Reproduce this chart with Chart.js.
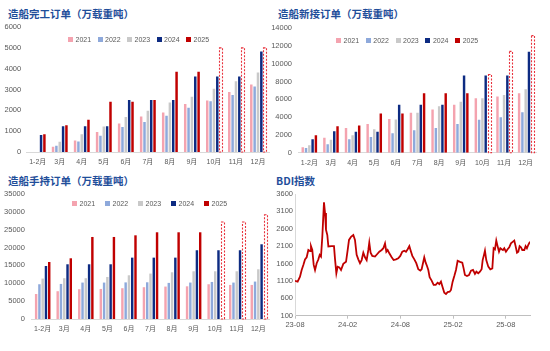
<!DOCTYPE html>
<html>
<head>
<meta charset="utf-8">
<script src="https://cdn.jsdelivr.net/npm/chart.js@4.4.0/dist/chart.umd.min.js"></script>
<style>
  body { margin: 0; width: 550px; height: 351px; background: #fff; position: relative; overflow: hidden;
         font-family: "Liberation Sans", "Noto Sans CJK SC", sans-serif; }
  .box { position: absolute; }
  .title { position: absolute; font-family: "Noto Sans CJK SC"; font-weight: bold; font-size: 10.5px;
           color: #1F4E9A; white-space: nowrap; line-height: 1; }
  .legend { position: absolute; display: flex; font-size: 7px; color: #595959; line-height: 1; }
  .legend .item { display: flex; align-items: center; }
  .legend i { display: inline-block; width: 5px; height: 5px; margin-right: 2.5px; }
</style>
</head>
<body>

<div class="title" style="left:8px; top:9px">造船完工订单（万载重吨）</div>
<div class="title" style="left:278px; top:9px">造船新接订单（万载重吨）</div>
<div class="title" style="left:8px; top:176px">造船手持订单（万载重吨）</div>
<div class="title" style="left:276px; top:176px">BDI指数</div>

<div class="box" style="left:0; top:0; width:275px; height:175px"><canvas id="c1"></canvas></div>
<div class="box" style="left:268px; top:0; width:282px; height:175px"><canvas id="c2"></canvas></div>
<div class="box" style="left:0; top:170px; width:275px; height:181px"><canvas id="c3"></canvas></div>
<div class="box" style="left:274px; top:170px; width:276px; height:181px"><canvas id="c4"></canvas></div>

<div class="legend" id="lg1" style="left:68px; top:36px"></div>
<div class="legend" id="lg2" style="left:336px; top:37px"></div>
<div class="legend" id="lg3" style="left:72px; top:200px"></div>

<script>
const months = ['1-2月', '3月', '4月', '5月', '6月', '7月', '8月', '9月', '10月', '11月', '12月'];
const years = ['2021', '2022', '2023', '2024', '2025'];
const colors = ['#F4A3AF', '#8EA9DB', '#C9C9C9', '#0D2B82', '#C00000'];

// 造船完工订单
const done21 = [null, 250, 550, 960, 1370, 1710, 1900, 2300, 2470, 2880, 3240];
const done22 = [null, 300, 500, 780, 1200, 1440, 1740, 2130, 2440, 2740, 3150];
const done23 = [null, 490, 850, 1220, 1680, 1980, 2380, 2650, 3040, 3400, 3820];
const done24 = [820, 1240, 1240, 1240, 2500, 2500, 2500, 3630, 3630, 3630, 4820];
const done25 = [850, 1290, 1550, 2410, 2410, 2500, 3850, 3850, null, null, null];
const done25e = [null, null, null, null, null, null, null, null, 5000, 5000, 5000];

// 造船新接订单
const newo21 = [620, 1690, 2770, 3220, 3780, 4500, 4870, 5400, 6120, 6330, 6680];
const newo22 = [530, 950, 1500, 1760, 2180, 2520, 2770, 3230, 3710, 3980, 4540];
const newo23 = [830, 1470, 1950, 2630, 3750, 4490, 5240, 5740, 6120, 6480, 7130];
const newo24 = [1500, 2400, 2370, 2370, 5400, 5400, 5400, 8700, 8700, 8700, 11350];
const newo25 = [1950, 2970, 3050, 4400, 4400, 6680, 6680, 6680, null, null, null];
const newo25e = [null, null, null, null, null, null, null, null, 8800, 11400, 13180];

// 造船手持订单
const hold21 = [7000, 7780, 8340, 8420, 8620, 8900, 9080, 9150, 9730, 9540, 9540];
const hold22 = [9730, 9820, 10200, 10200, 10250, 10280, 10110, 10200, 10370, 10200, 10480];
const hold23 = [11320, 11420, 11420, 11770, 12240, 12720, 13080, 13360, 13360, 13360, 13920];
const hold24 = [14840, 15320, 15320, 15320, 17180, 17180, 17180, 19250, 19250, 19250, 20920];
const hold25 = [15960, 17000, 22970, 22970, 23430, 24280, 24280, 24280, null, null, null];
const hold25e = [null, null, null, null, null, null, null, null, 27150, 27150, 29200];

// BDI指数 (x = 月份, 0 = 2023-08)
const bdiT = [0, 0.30, 0.57, 0.76, 0.95, 1.14, 1.33, 1.52, 1.71, 1.82,
  1.97, 2.13, 2.28, 2.47, 2.66, 2.81, 2.96, 3.11, 3.30, 3.42,
  3.53, 3.68, 3.80, 4.17, 4.44, 4.55, 4.71, 4.86, 5.05, 5.24,
  5.50, 5.81, 6.00, 6.15, 6.38, 6.64, 6.83, 7.02, 7.21, 7.40,
  7.59, 7.78, 7.97, 8.16, 8.35, 8.46, 8.61, 8.80, 9.11, 9.37,
  9.60, 9.87, 10.06, 10.25, 10.40, 10.55, 10.74, 11.01, 11.23, 11.50,
  11.76, 11.99, 12.22, 12.45, 12.64, 12.83, 13.02, 13.21, 13.36, 13.59,
  13.81, 14.04, 14.27, 14.42, 14.61, 14.72, 14.88, 15.03, 15.18, 15.33,
  15.56, 15.79, 16.02, 16.24, 16.43, 16.62, 16.81, 17.00, 17.19, 17.38,
  17.61, 17.76, 17.95, 18.14, 18.33, 18.52, 18.79, 19.05, 19.20, 19.35,
  19.58, 19.81, 20.04, 20.27, 20.49, 20.65, 20.87, 21.06, 21.25, 21.37,
  21.52, 21.63, 21.78, 22.01, 22.24, 22.47, 22.62, 22.77, 22.92, 23.07,
  23.23, 23.38, 23.53, 23.68, 23.83, 24.02, 24.21, 24.40, 24.59, 24.82,
  24.97, 25.12, 25.28, 25.43, 25.58, 25.73, 25.88, 26.11, 26.26, 26.41,
  26.57, 26.76];
const bdiV = [1100, 1080, 1220, 1415, 1560, 1720, 1780, 1990, 1960, 2100,
  1990, 1560, 1415, 1610, 1720, 1850, 1800, 2370, 3360, 3050,
  2570, 2420, 2090, 2100, 2100, 1750, 1320, 1510, 1490, 1415,
  1590, 1650, 1990, 2280, 2370, 2420, 2280, 1850, 1720, 1610,
  1700, 1910, 1780, 1700, 1990, 2200, 1910, 1820, 1800, 1875,
  1940, 1990, 2040, 2180, 1940, 1990, 1895, 1780, 1700, 1720,
  1750, 1820, 1940, 1970, 1940, 2010, 2100, 1940, 1820, 1720,
  1610, 1435, 1395, 1435, 1650, 1780, 1625, 1530, 1415, 1205,
  1110, 985, 985, 1050, 1010, 1080, 915, 760, 725, 780,
  790, 840, 1080, 1240, 1415, 1680, 1650, 1625, 1460, 1270,
  1240, 1270, 1395, 1415, 1300, 1365, 1320, 1365, 1435, 1700,
  1850, 1970, 1700, 1510, 1435, 1460, 2040, 2010, 2260, 2100,
  1940, 2040, 2010, 1990, 2040, 1940, 2010, 2070, 2180, 2230,
  2260, 2100, 1910, 1940, 2100, 2070, 1990, 1990, 2100, 2040,
  2140, 2230];
const bdiTickPos = [0, 6, 12, 18, 24];
const bdiTickLabels = ['23-08', '24-02', '24-08', '25-02', '25-08'];

Chart.defaults.font.family = '"Liberation Sans", "Noto Sans CJK SC", sans-serif';
Chart.defaults.color = '#595959';
Chart.defaults.animation = false;

// dashed outline for the estimated 2025 bars
const dashBars = {
  id: 'dashBars',
  afterDatasetsDraw(chart) {
    const ctx = chart.ctx;
    chart.data.datasets.forEach((d, di) => {
      if (!d.estimate) return;
      const meta = chart.getDatasetMeta(di);
      ctx.save();
      ctx.setLineDash([2, 1.5]);
      ctx.strokeStyle = '#E8323C';
      ctx.lineWidth = 1.1;
      meta.data.forEach((bar, i) => {
        if (d.estimate[i] == null) return;
        const p = bar.getProps(['x', 'y', 'base', 'width'], true);
        ctx.strokeRect(Math.round(p.x - p.width / 2) + 0.5, p.y, Math.max(p.width, 3), p.base - p.y);
      });
      ctx.restore();
    });
  }
};

function makeLegend(id, step) {
  const el = document.getElementById(id);
  years.forEach((y, i) => {
    const it = document.createElement('span');
    it.className = 'item';
    it.style.width = step + 'px';
    it.innerHTML = '<i style="background:' + colors[i] + '"></i>' + y;
    el.appendChild(it);
  });
}

function makeBar(id, series, est, yMax, yStep, g) {
  const last = series[4].map((v, i) => v != null ? v : est[i]);
  const ds = series.slice(0, 4).map((s, i) => ({
    label: years[i], data: s, backgroundColor: colors[i]
  }));
  ds.push({
    label: years[4], data: last, estimate: est,
    backgroundColor: series[4].map(v => v != null ? colors[4] : 'rgba(0,0,0,0)')
  });
  new Chart(document.getElementById(id), {
    type: 'bar',
    data: { labels: months, datasets: ds },
    plugins: [dashBars],
    options: {
      responsive: true,
      maintainAspectRatio: false,
      categoryPercentage: 0.76,
      barPercentage: 0.74,
      layout: { padding: { top: g.top, right: g.right, bottom: 0, left: 0 } },
      plugins: { legend: { display: false }, tooltip: { enabled: false } },
      scales: {
        x: {
          grid: { display: false, drawTicks: false },
          border: { display: true, color: '#D9D9D9' },
          ticks: { font: { size: 7 }, padding: g.xpad, maxRotation: 0, autoSkip: false },
          afterFit: s => { s.height = g.xh; }
        },
        y: {
          min: 0, max: yMax,
          grid: { display: false, drawTicks: false },
          border: { display: false },
          ticks: { stepSize: yStep, font: { size: 7.5 }, padding: g.ypad, callback: v => String(v) },
          afterFit: s => { s.width = g.left; }
        }
      }
    }
  });
}

makeBar('c1', [done21, done22, done23, done24, done25], done25e, 6000, 1000,
  { top: 27, right: 6, left: 26.7, xh: 23, xpad: 6, ypad: 5.5 });
makeBar('c2', [newo21, newo22, newo23, newo24, newo25], newo25e, 14000, 2000,
  { top: 28.3, right: 13.5, left: 30.5, xh: 22.3, xpad: 6, ypad: 6.5 });
makeBar('c3', [hold21, hold22, hold23, hold24, hold25], hold25e, 35000, 5000,
  { top: 24, right: 5.9, left: 31.9, xh: 32, xpad: 5.5, ypad: 7 });

makeLegend('lg1', 29.5);
makeLegend('lg2', 29.8);
makeLegend('lg3', 33);

new Chart(document.getElementById('c4'), {
  type: 'line',
  data: {
    datasets: [{
      label: 'BDI',
      data: bdiT.map((t, i) => ({ x: t, y: bdiV[i] })),
      borderColor: '#C00000',
      borderWidth: 1.8,
      pointRadius: 0,
      tension: 0
    }]
  },
  options: {
    responsive: true,
    maintainAspectRatio: false,
    layout: { padding: { top: 24, right: 20, bottom: 0, left: 0 } },
    plugins: { legend: { display: false }, tooltip: { enabled: false } },
    scales: {
      x: {
        type: 'linear',
        min: 0, max: bdiT[bdiT.length - 1],
        grid: { display: true, drawOnChartArea: false, drawTicks: true, tickLength: 3, color: '#BFBFBF' },
        border: { display: true, color: '#BFBFBF' },
        afterBuildTicks: s => { s.ticks = bdiTickPos.map(v => ({ value: v })); },
        ticks: { font: { size: 7.5 }, padding: 2, maxRotation: 0, callback: (v, i) => bdiTickLabels[i] },
        afterFit: s => { s.height = 181 - 145.7; }
      },
      y: {
        min: 100, max: 3600,
        grid: { display: false, drawTicks: false },
        border: { display: true, color: '#D9D9D9' },
        ticks: { stepSize: 500, font: { size: 7.5 }, padding: 2, callback: v => String(v) },
        afterFit: s => { s.width = 21; }
      }
    }
  }
});
</script>
</body>
</html>
